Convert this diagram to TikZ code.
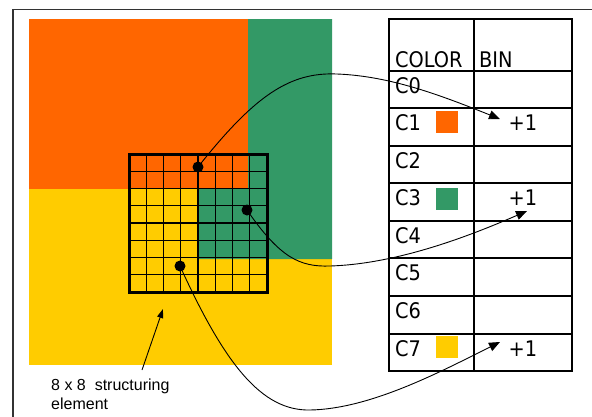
\documentclass[tikz,border=0pt]{standalone}
\usepackage{fontspec}
\setmainfont{Liberation Sans}
\newfontfamily\tabfont{DejaVu Sans Condensed}
\usetikzlibrary{arrows.meta}
\definecolor{corange}{HTML}{FF6600}
\definecolor{cgreen}{HTML}{339966}
\definecolor{cyellow}{HTML}{FFCC00}
\definecolor{framegray}{HTML}{333333}
\tikzset{
  tline/.style={line width=1.5pt,black},
  gridline/.style={line width=1.1pt,black},
  gridframe/.style={line width=3pt,black},
  dotnode/.style={circle,fill=black,inner sep=0pt,minimum size=11pt},
  conn/.style={line width=0.9pt,black,-{Triangle[length=11pt,width=9pt]}},
  tabtext/.style={font=\tabfont\fontsize{21.5}{26}\selectfont,inner sep=0pt},
  swatch/.style={draw=none,minimum width=22pt,minimum height=22pt,inner sep=0pt,anchor=north west}
}
\begin{document}
\begin{tikzpicture}[x=1pt,y=-1pt]
\useasboundingbox (0,0) rectangle (592,416);
% outer frame
\draw[framegray,line width=1.3pt] (13,420) -- (13,9.5) -- (595,9.5);
% colour regions
\fill[cyellow] (29,19) rectangle (332,365);
\fill[corange] (29,19) rectangle (248,189);
\fill[cgreen] (248,19) -- (332,19) -- (332,259) -- (197,259) -- (197,189) -- (248,189) -- cycle;
% 8x8 grid
\foreach \i in {1,...,7} {
  \draw[gridline] ({129+\i*17.25},154) -- ({129+\i*17.25},292);
  \draw[gridline] (129,{154+\i*17.25}) -- (267,{154+\i*17.25});
}
\draw[gridframe] (129,154) rectangle (267,292);
% table
\draw[tline] (389,19) rectangle (572,371);
\draw[tline] (474,19) -- (474,371);
\foreach \y in {71,108,146,183,221,258,296,334} {
  \draw[tline] (389,\y) -- (572,\y);
}
\node[tabtext,anchor=base west] (hcolor) at (395,67) {COLOR};
\node[tabtext,anchor=base west] (hbin) at (479,67) {BIN};
\foreach \n/\y in {0/93,1/130,2/168,3/205,4/243,5/280,6/318,7/356} {
  \node[tabtext,anchor=base west] (c\n) at (395,\y) {C\n};
}
\node[swatch,fill=corange] (s1) at (436,111) {};
\node[swatch,fill=cgreen] (s3) at (436,188) {};
\node[swatch,fill=cyellow] (s7) at (436,336) {};
\node[tabtext,anchor=base] (p1) at (523,130) {+1};
\node[tabtext,anchor=base] (p3) at (523,205) {+1};
\node[tabtext,anchor=base] (p7) at (523,356) {+1};
% dots
\node[dotnode] (d1) at (198,167) {};
\node[dotnode] (d3) at (247,210) {};
\node[dotnode] (d7) at (180,266) {};
\coordinate (t1) at (500,119);
\coordinate (t3) at (527,211);
\coordinate (t7) at (500,342);
\draw[conn] (d1.center) .. controls (255,95) and (290,72) .. (337,74)
  .. controls (390,76) and (440,95) .. (t1);
\draw[conn] (d3.center) .. controls (280,258) and (300,267) .. (330,266)
  .. controls (395,264) and (465,238) .. (t3);
\draw[conn] (d7.center) .. controls (225,365) and (262,411) .. (310,410)
  .. controls (370,409) and (440,372) .. (t7);
% label
\node[font=\fontsize{16}{19}\selectfont,align=left,anchor=base west,inner sep=0pt] (lab) at (51,409) {8 x 8\ \ structuring\\element};
\coordinate (lstart) at (142,370);
\coordinate (ltip) at (163,309);
\draw[line width=0.9pt,-{Triangle[length=9pt,width=6pt]}] (lstart) -- (ltip);
\end{tikzpicture}
\end{document}
